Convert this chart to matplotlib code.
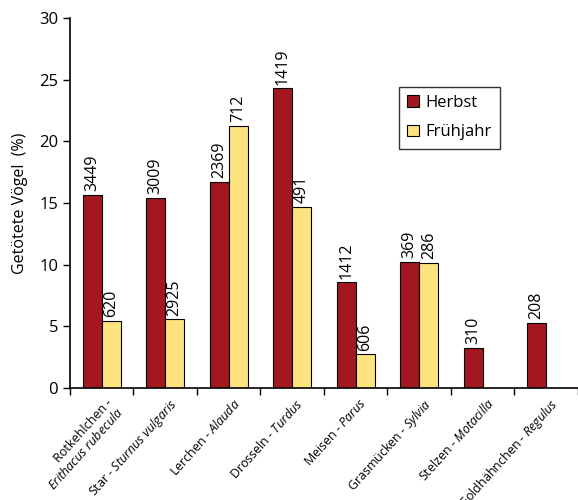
import numpy as np
import matplotlib
matplotlib.use('Agg')
import matplotlib.pyplot as plt

plt.rcParams['font.family'] = ['Open Sans', 'DejaVu Sans']
plt.rcParams['mathtext.fontset'] = 'custom'
plt.rcParams['mathtext.rm'] = 'Open Sans'
plt.rcParams['mathtext.it'] = 'Open Sans:italic'

# Daten
namen = ['Rotkehlchen -\n', 'Star - ', 'Lerchen - ', 'Drosseln - ',
         'Meisen - ', 'Grasmücken - ', 'Stelzen - ', 'Goldhähnchen - ']
gattung = ['Erithacus rubecula', 'Sturnus vulgaris', 'Alauda', 'Turdus',
           'Parus', 'Sylvia', 'Motacilla', 'Regulus']
herbst = [15.65, 15.4, 16.7, 24.3, 8.57, 10.2, 3.27, 5.3]
fruehjahr = [5.46, 5.57, 21.25, 14.7, 2.73, 10.15, np.nan, np.nan]
n_herbst = ['3449', '3009', '2369', '1419', '1412', '369', '310', '208']
n_fruehjahr = ['620', '2925', '712', '491', '606', '286', '', '']

rot = '#A3171F'
gelb = '#FDE380'

fig = plt.figure(figsize=(5.78, 5.0), dpi=100)
ax = fig.add_axes([0.121, 0.224, 0.879, 0.740])

x = np.arange(len(namen))
w = 0.3
ax.bar(x - w / 2, herbst, w, color=rot, edgecolor='black', linewidth=0.8, label='Herbst')
ax.bar(x + w / 2, fruehjahr, w, color=gelb, edgecolor='black', linewidth=0.8, label='Frühjahr')

for i in range(len(x)):
    ax.text(x[i] - w / 2, herbst[i] + 0.3, n_herbst[i], rotation=90,
            ha='center', va='bottom', fontsize=11.5)
    if n_fruehjahr[i]:
        ax.text(x[i] + w / 2, fruehjahr[i] + 0.3, n_fruehjahr[i], rotation=90,
                ha='center', va='bottom', fontsize=11.5)

ax.set_xlim(-0.5, 7.5)
ax.set_ylim(0, 30)
ax.set_yticks(np.arange(0, 31, 5))
ax.tick_params(axis='y', labelsize=12, length=5, width=1, direction='out')

# Kategorien-Grenzen als Ticks, Beschriftung mittig
ax.set_xticks(np.arange(-0.5, 8, 1), minor=True)
ax.set_xticks(x + 0.06)
labels = []
for nm, g in zip(namen, gattung):
    labels.append(nm + r'$\mathit{' + g.replace(' ', r'\ ') + '}$')
ax.set_xticklabels(labels, rotation=48, ha='right', rotation_mode='anchor',
                   fontsize=9.0, linespacing=1.05)
ax.tick_params(axis='x', which='major', length=0, pad=6)
ax.tick_params(axis='x', which='minor', length=5, width=1, direction='out')

ax.spines['top'].set_visible(False)
ax.spines['right'].set_visible(False)
ax.spines['left'].set_linewidth(1.2)
ax.spines['bottom'].set_linewidth(1.2)

ax.set_ylabel('Getötete Vögel  (%)', fontsize=11.5, labelpad=8)

leg = ax.legend(loc='upper left', bbox_to_anchor=(0.631, 0.837), fontsize=12,
                frameon=True, fancybox=False, edgecolor='black',
                handlelength=0.7, handleheight=0.7, handletextpad=0.4,
                borderpad=0.5, labelspacing=0.8)
leg.get_frame().set_linewidth(1.0)

fig.savefig('out.png', dpi=100)
